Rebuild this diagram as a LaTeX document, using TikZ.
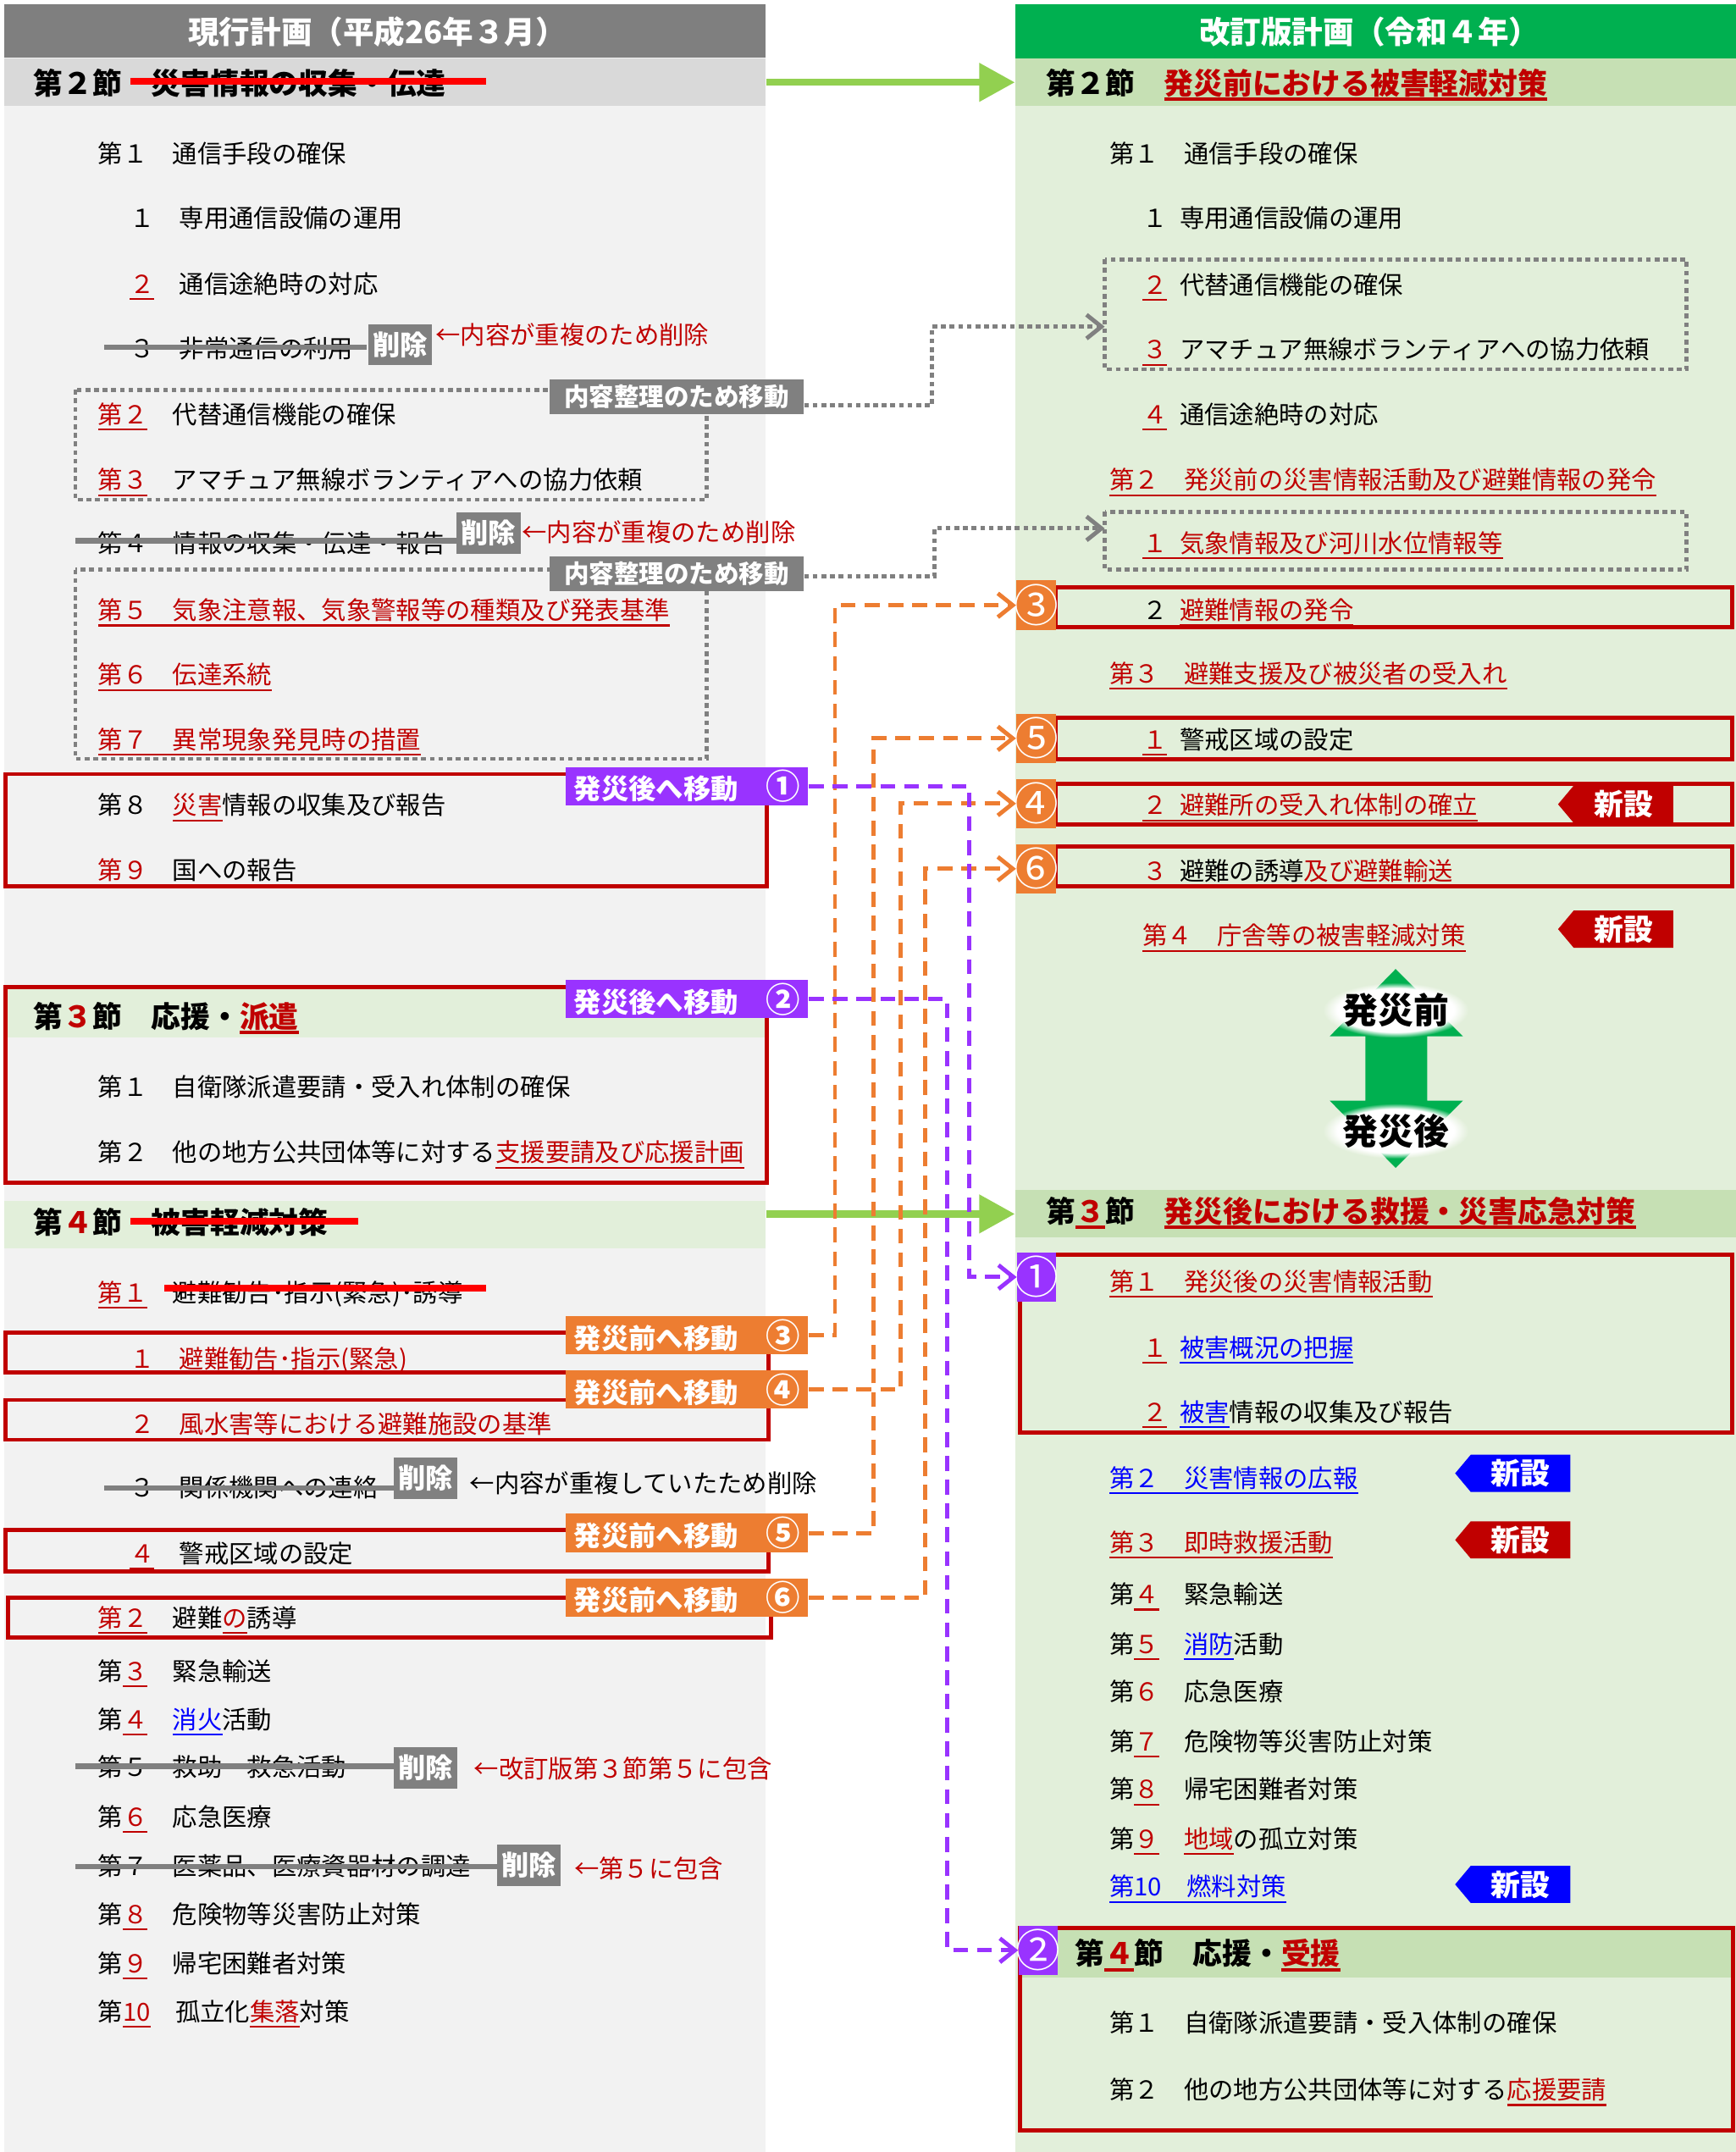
\documentclass[tikz,border=0pt]{standalone}
\usepackage{fontspec}
\setmainfont{Noto Sans CJK JP}
\usetikzlibrary{arrows.meta,shapes.symbols,fadings}

\definecolor{lbg}{HTML}{F2F2F2}
\definecolor{rbg}{HTML}{E2EFDA}
\definecolor{ltitle}{HTML}{7F7F7F}
\definecolor{rtitle}{HTML}{00B050}
\definecolor{lband}{HTML}{D9D9D9}
\definecolor{rband}{HTML}{C6E0B4}
\definecolor{jred}{HTML}{C00000}
\definecolor{jblue}{HTML}{0000FF}
\definecolor{jorange}{HTML}{ED7D31}
\definecolor{jpurple}{HTML}{9933FF}
\definecolor{jlime}{HTML}{92D050}
\definecolor{jgray}{HTML}{808080}

\newcommand\ulc[3]{{\color{#1}\setbox0=\hbox{#3}\rlap{\rule[-2.2pt]{\wd0}{#2}}\box0}}
\newcommand\ru[1]{\ulc{jred}{.6pt}{#1}}
\newcommand\bu[1]{\ulc{jblue}{.6pt}{#1}}
\newcommand\rh[1]{\ulc{jred}{1pt}{#1}}
\newcommand\rc[1]{\textcolor{jred}{#1}}
\newcommand\hs{\hspace{.5em}}
\newcommand\cnum[1]{{\fontsize{11.5pt}{12pt}\selectfont #1}}
\newcommand\bnum[1]{\makebox[0pt]{\fontsize{15pt}{15pt}\selectfont #1}}

\tikzset{
  itm/.style={anchor=west, inner sep=0pt, text height=.85em, text depth=.15em,
    font=\fontsize{8.35pt}{10pt}\selectfont},
  hdr/.style={itm, font=\fontsize{9.9pt}{12pt}\selectfont\bfseries},
  ttl/.style={inner sep=0pt, text=white, font=\fontsize{10.4pt}{12pt}\selectfont\bfseries},
  note/.style={itm, text=jred},
  sectband/.style={inner sep=0pt, minimum height=15.9pt},
  delbox/.style={fill=jgray, text=white, inner sep=1.5pt, minimum height=13.8pt,
    font=\fontsize{9.2pt}{11pt}\selectfont\bfseries},
  movbox/.style={fill=jgray, text=white, inner sep=0pt, minimum width=85.3pt,
    minimum height=11.8pt, font=\fontsize{8.4pt}{10pt}\selectfont\bfseries},
  postbox/.style={fill=jpurple, text=white, inner sep=0pt, minimum width=81.6pt,
    minimum height=12.9pt, font=\fontsize{9.2pt}{11pt}\selectfont\bfseries},
  prebox/.style={postbox, fill=jorange},
  numbox/.style={text=white, inner sep=0pt, minimum width=13.1pt, minimum height=16.6pt},
  newtag/.style={signal, signal to=west, signal pointer angle=100, text=white,
    inner sep=0pt, minimum width=38.7pt, minimum height=12.5pt,
    font=\fontsize{9.9pt}{12pt}\selectfont\bfseries},
  glowtxt/.style={inner sep=0pt, font=\fontsize{11.9pt}{14pt}\selectfont\bfseries},
  redbox/.style={draw=jred, line width=1.4pt},
  dotbox/.style={draw=jgray, line width=1.3pt, dash pattern=on 1.6pt off 1.3pt},
  strk/.style={jgray, line width=1.8pt},
  rstrk/.style={red, line width=2.3pt},
  chev/.style={-{Straight Barb[length=5pt,width=8pt]}},
  odash/.style={chev, jorange, line width=1.4pt, dash pattern=on 5pt off 3pt},
  pdash/.style={chev, jpurple, line width=1.4pt, dash pattern=on 5pt off 3pt},
  gdot/.style={chev, jgray, line width=1.4pt, dash pattern=on 1.6pt off 1.3pt},
  bigarr/.style={jlime, line width=2.4pt, -{Triangle[length=12pt,width=12.5pt]}},
}

\begin{document}
\begin{tikzpicture}[x=0.0162055cm, y=-0.0162055cm]
\useasboundingbox (0,0) rectangle (1265,1568);

% backgrounds and titles
\fill[lbg] (3,3) rectangle (558,1568);
\fill[rbg] (740,3) rectangle (1265,1568);
\fill[ltitle] (3,3) rectangle (558,42);
\fill[rtitle] (740,3) rectangle (1265,43);
\node[ttl] (lttl) at (275,23) {現行計画（平成26年３月）};
\node[ttl] (rttl) at (998,23) {改訂版計画（令和４年）};
\node[sectband, fill=lband, minimum width=255.9pt] (lb2) at (280.5,60) {};
\node[sectband, fill=rband, minimum width=242.1pt] (rb2) at (1002.5,60) {};
\node[sectband, fill=rbg, minimum width=255.9pt] (lb4) at (280.5,892.5) {};
\node[sectband, fill=rband, minimum width=242.1pt] (rb3) at (1002.5,884.5) {};

% ---- left: current plan
\node[hdr] (l2h) at (24,61) {第２節　災害情報の収集・伝達};
\draw[rstrk] (95,59) -- (354,59);
\node[itm] (l21) at (71,111) {第１　通信手段の確保};
\node[itm] (l211) at (94,158) {１　専用通信設備の運用};
\node[itm] (l212) at (94,206) {\ru{２}　通信途絶時の対応};
\node[itm] (l213) at (94,253) {３　非常通信の利用};
\draw[strk] (76,253) -- (267,253);
\node[delbox] (del1) at (291.6,251) {削除};
\node[note] (nt1) at (317,243) {←内容が重複のため削除};
\draw[dotbox] (55,284) rectangle (515,364);
\node[itm] (l22) at (71,301) {\ru{第２}　代替通信機能の確保};
\node[itm] (l23) at (71,349) {\ru{第３}　アマチュア無線ボランティアへの協力依頼};
\node[movbox] (mov1) at (493,289) {内容整理のため移動};
\node[itm] (l24) at (71,395) {第４　情報の収集・伝達・報告};
\draw[strk] (55,394) -- (334,394);
\node[delbox] (del2) at (356,388.5) {削除};
\node[note] (nt2) at (380,387) {←内容が重複のため削除};
\draw[dotbox] (55,415) rectangle (515,553);
\node[itm] (l25) at (71,444) {\ru{第５　気象注意報、気象警報等の種類及び発表基準}};
\node[itm] (l26) at (71,491) {\ru{第６　伝達系統}};
\node[itm] (l27) at (71,538) {\ru{第７　異常現象発見時の措置}};
\node[movbox] (mov2) at (493,418) {内容整理のため移動};

\draw[redbox] (4,564) rectangle (559,646);
\node[itm] (l28) at (71,586) {第８　\ru{災害}情報の収集及び報告};
\node[itm] (l29) at (71,633) {\ru{第９}　国への報告};
\node[postbox] (post1) at (500.5,573) {発災後へ移動　\cnum{①}};

\fill[rbg] (5,720) rectangle (558,756);
\draw[redbox] (4,719) rectangle (559,862);
\node[hdr] (l3h) at (24,741) {第\rc{３}節　応援・\rh{派遣}};
\node[itm] (l31) at (71,791) {第１　自衛隊派遣要請・受入れ体制の確保};
\node[itm] (l32) at (71,839) {第２　他の地方公共団体等に対する\ru{支援要請及び応援計画}};
\node[postbox] (post2) at (500.5,728) {発災後へ移動　\cnum{②}};

\node[hdr] (l4h) at (24,891) {第\rc{４}節　被害軽減対策};
\draw[rstrk] (95,890) -- (261,890);
\node[itm] (l41) at (71,941) {\ru{第１}　避難勧告･指示(緊急)･誘導};
\draw[rstrk] (120,938.5) -- (354,938.5);
\draw[redbox] (4,971) rectangle (560,1000);
\node[itm] (l411) at (94,989) {\ru{１　避難勧告･指示(緊急)}};
\node[prebox] (pre3) at (500.5,973) {発災前へ移動　\cnum{③}};
\draw[redbox] (4,1020) rectangle (560,1049);
\node[itm] (l412) at (94,1037) {\ru{２　風水害等における避難施設の基準}};
\node[prebox] (pre4) at (500.5,1012.5) {発災前へ移動　\cnum{④}};
\node[itm] (l413) at (94,1083) {３　関係機関への連絡};
\draw[strk] (76,1084) -- (291,1084);
\node[delbox] (del3) at (310,1077) {削除};
\node[itm] (nt3) at (342,1080) {←内容が重複していたため削除};
\draw[redbox] (4,1115) rectangle (560,1145);
\node[itm] (l414) at (94,1131) {\ru{４}　警戒区域の設定};
\node[prebox] (pre5) at (500.5,1117) {発災前へ移動　\cnum{⑤}};
\draw[redbox] (6,1164) rectangle (562,1193);
\node[itm] (l42) at (71,1178) {\ru{第２}　避難\ru{の}誘導};
\node[prebox] (pre6) at (500.5,1164) {発災前へ移動　\cnum{⑥}};
\node[itm] (l43) at (71,1217) {第\ru{３}　緊急輸送};
\node[itm] (l44) at (71,1252) {第\ru{４}　\bu{消火}活動};
\node[itm] (l45) at (71,1287) {第５　救助・救急活動};
\draw[strk] (55,1287) -- (288,1287);
\node[delbox] (del4) at (310,1288) {削除};
\node[note] (nt4) at (345,1288) {←改訂版第３節第５に包含};
\node[itm] (l46) at (71,1323) {第\ru{６}　応急医療};
\node[itm] (l47) at (71,1359) {第７　医薬品、医療資器材の調達};
\draw[strk] (55,1360) -- (363,1360);
\node[delbox] (del5) at (385.4,1359) {削除};
\node[note] (nt5) at (418,1361) {←第５に包含};
\node[itm] (l48) at (71,1394) {第\ru{８}　危険物等災害防止対策};
\node[itm] (l49) at (71,1430) {第\ru{９}　帰宅困難者対策};
\node[itm] (l410) at (71,1465) {第\ru{10}　孤立化\ru{集落}対策};

% ---- right: revised plan
\node[hdr] (r2h) at (762,61) {第２節　\rh{発災前における被害軽減対策}};
\node[itm] (r21) at (808,111) {第１　通信手段の確保};
\node[itm] (r211) at (832,158) {１\hs 専用通信設備の運用};
\draw[dotbox] (805,189) rectangle (1229,269);
\coordinate (rdot1) at (805,238);
\node[itm] (r212) at (832,207) {\ru{２}\hs 代替通信機能の確保};
\node[itm] (r213) at (832,254) {\ru{３}\hs アマチュア無線ボランティアへの協力依頼};
\node[itm] (r214) at (832,301) {\ru{４}\hs 通信途絶時の対応};
\node[itm] (r22) at (808,349) {\ru{第２　発災前の災害情報活動及び避難情報の発令}};
\draw[dotbox] (805,373) rectangle (1229,415);
\coordinate (rdot2) at (805,385);
\node[itm] (r221) at (832,395) {\ru{１\hs 気象情報及び河川水位情報等}};
\draw[redbox] (769,428) rectangle (1262,457);
\node[numbox, fill=jorange] (nb3) at (755,441) {\bnum{③}};
\node[itm] (r222) at (832,444) {２\hs\ru{避難情報の発令}};
\node[itm] (r23) at (808,490) {\ru{第３　避難支援及び被災者の受入れ}};
\draw[redbox] (769,523) rectangle (1262,553);
\node[numbox, fill=jorange] (nb5) at (755,538) {\bnum{⑤}};
\node[itm] (r231) at (832,538) {\ru{１}\hs 警戒区域の設定};
\draw[redbox] (769,571) rectangle (1262,601);
\node[numbox, fill=jorange] (nb4) at (755,585.5) {\bnum{④}};
\node[itm] (r232) at (832,586) {\ru{２\hs 避難所の受入れ体制の確立}};
\node[newtag, fill=jred] (new1) at (1183,586) {新設};
\draw[redbox] (769,617) rectangle (1262,646);
\node[numbox, fill=jorange] (nb6) at (755,633) {\bnum{⑥}};
\node[itm] (r233) at (832,634) {\ru{３}\hs 避難の誘導\ru{及び避難輸送}};
\node[itm] (r24) at (832,681) {\ru{第４　庁舎等の被害軽減対策}};
\node[newtag, fill=jred] (new2) at (1183,677) {新設};

% before / after arrow
\fill[rtitle] (1017,706) -- (1066,755) -- (1040,755) -- (1040,802) -- (1066,802)
  -- (1017,851) -- (969,802) -- (995,802) -- (995,755) -- (969,755) -- cycle;
\fill[white, path fading=circle with fuzzy edge 20 percent] (964,716) rectangle (1070,756);
\fill[white, path fading=circle with fuzzy edge 20 percent] (964,804) rectangle (1070,844);
\node[glowtxt] (bef) at (1017,736) {発災前};
\node[glowtxt] (aft) at (1017,824) {発災後};

\node[hdr] (r3h) at (762,883) {第\rh{３}節　\rh{発災後における救援・災害応急対策}};
\draw[redbox] (743,914) rectangle (1262,1044);
\node[numbox, fill=jpurple] (nb1) at (755.5,930.5) {\bnum{①}};
\node[itm] (r31) at (808,933) {\ru{第１　発災後の災害情報活動}};
\node[itm] (r311) at (832,981) {\ru{１}\hs\bu{被害概況の把握}};
\node[itm] (r312) at (832,1028) {\ru{２}\hs\bu{被害}情報の収集及び報告};
\node[itm] (r32) at (808,1076) {\bu{第２　災害情報の広報}};
\node[newtag, fill=jblue] (new3) at (1108,1073.5) {新設};
\node[itm] (r33) at (808,1123) {\ru{第３　即時救援活動}};
\node[newtag, fill=jred] (new4) at (1108,1122) {新設};
\node[itm] (r34) at (808,1161) {第\ru{４}　緊急輸送};
\node[itm] (r35) at (808,1197) {第\ru{５}　\bu{消防}活動};
\node[itm] (r36) at (808,1232) {第\rc{６}　応急医療};
\node[itm] (r37) at (808,1268) {第\ru{７}　危険物等災害防止対策};
\node[itm] (r38) at (808,1303) {第\ru{８}　帰宅困難者対策};
\node[itm] (r39) at (808,1339) {第\ru{９}　\ru{地域}の孤立対策};
\node[itm] (r310) at (808,1374) {\bu{第10　燃料対策}};
\node[newtag, fill=jblue] (new5) at (1108,1373) {新設};

\fill[rband] (744,1406) rectangle (1262,1441);
\draw[redbox] (743,1405) rectangle (1263,1552);
\node[numbox, fill=jpurple] (nb2) at (756.5,1421) {\bnum{②}};
\node[hdr] (r4h) at (783,1424) {第\rh{４}節　応援・\rh{受援}};
\node[itm] (r41) at (808,1473) {第１　自衛隊派遣要請・受入体制の確保};
\node[itm] (r42) at (808,1522) {第２　他の地方公共団体等に対する\ru{応援要請}};

% ---- connectors
\draw[bigarr] (lb2.east) -- (rb2.west);
\draw[bigarr] (lb4.east |- rb3.west) -- (rb3.west);
\draw[gdot] ([yshift=-3pt]mov1.east) -- ++(93,0) |- (rdot1);
\draw[gdot] ([yshift=-1pt]mov2.east) -- ++(95,0) |- (rdot2);
\draw[odash] (pre3.east) -- ++(19,0) |- (nb3.west);
\draw[odash] (pre4.east) -- ++(67,0) |- (nb4.west);
\draw[odash] (pre5.east) -- ++(47,0) |- (nb5.west);
\draw[odash] (pre6.east) -- ++(85,0) |- (nb6.west);
\draw[pdash] (post1.east) -- ++(117,0) |- (nb1.west);
\draw[pdash] (post2.east) -- ++(101,0) |- (nb2.west);
\end{tikzpicture}
\end{document}
